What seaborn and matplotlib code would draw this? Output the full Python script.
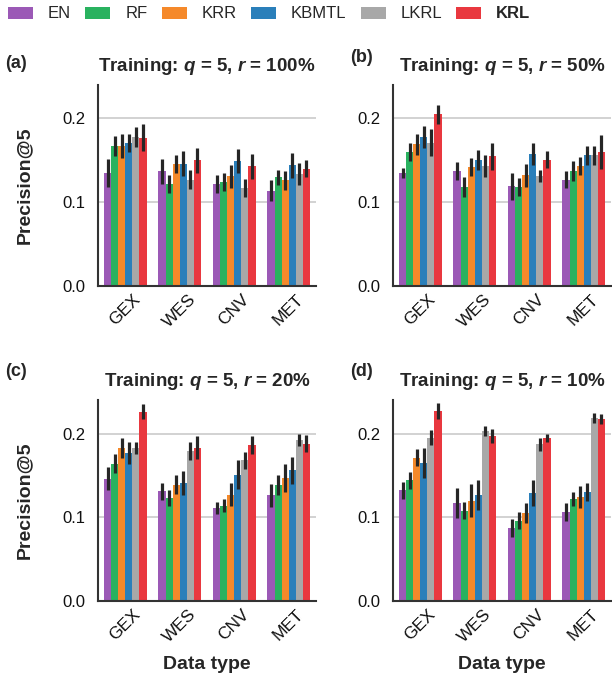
import pandas as pd
import seaborn as sns
import matplotlib.pyplot as plt
from matplotlib.patches import Patch

# Methods, data types and colours
methods = ['EN', 'RF', 'KRR', 'KBMTL', 'LKRL', 'KRL']
data_types = ['GEX', 'WES', 'CNV', 'MET']
colors = ['#9b59b6', '#29b25f', '#f5892a', '#2a7fba', '#a8a8a8', '#e9383f']

# Precision@5 means (rows: data type, columns: method)
mean_a = [[0.135, 0.167, 0.167, 0.171, 0.178, 0.177],
          [0.137, 0.122, 0.146, 0.146, 0.127, 0.150],
          [0.122, 0.124, 0.131, 0.149, 0.117, 0.143],
          [0.114, 0.130, 0.126, 0.144, 0.134, 0.140]]
err_a = [[0.017, 0.012, 0.014, 0.011, 0.012, 0.016],
         [0.015, 0.011, 0.011, 0.015, 0.011, 0.015],
         [0.011, 0.011, 0.014, 0.014, 0.011, 0.015],
         [0.012, 0.009, 0.011, 0.015, 0.013, 0.010]]

mean_b = [[0.135, 0.160, 0.169, 0.178, 0.171, 0.205],
          [0.137, 0.118, 0.142, 0.150, 0.143, 0.155],
          [0.119, 0.118, 0.132, 0.158, 0.131, 0.151],
          [0.127, 0.137, 0.143, 0.156, 0.156, 0.160]]
err_b = [[0.006, 0.011, 0.013, 0.013, 0.016, 0.011],
         [0.011, 0.012, 0.011, 0.012, 0.013, 0.016],
         [0.016, 0.011, 0.014, 0.013, 0.007, 0.010],
         [0.010, 0.012, 0.011, 0.011, 0.011, 0.020]]

mean_c = [[0.146, 0.164, 0.183, 0.177, 0.183, 0.226],
          [0.131, 0.123, 0.139, 0.141, 0.179, 0.183],
          [0.111, 0.114, 0.127, 0.151, 0.168, 0.186],
          [0.126, 0.138, 0.147, 0.156, 0.192, 0.188]]
err_c = [[0.014, 0.011, 0.012, 0.013, 0.007, 0.009],
         [0.010, 0.010, 0.011, 0.014, 0.011, 0.014],
         [0.007, 0.008, 0.014, 0.017, 0.010, 0.011],
         [0.014, 0.012, 0.017, 0.016, 0.007, 0.010]]

mean_d = [[0.132, 0.144, 0.171, 0.165, 0.195, 0.227],
          [0.117, 0.108, 0.120, 0.127, 0.203, 0.197],
          [0.087, 0.096, 0.105, 0.129, 0.187, 0.195],
          [0.106, 0.122, 0.124, 0.130, 0.219, 0.217]]
err_d = [[0.010, 0.010, 0.010, 0.018, 0.009, 0.010],
         [0.018, 0.010, 0.020, 0.018, 0.006, 0.008],
         [0.011, 0.010, 0.012, 0.015, 0.008, 0.005],
         [0.011, 0.008, 0.013, 0.011, 0.006, 0.006]]

panel_tags = ['(a)', '(b)', '(c)', '(d)']
panel_r = ['100%', '50%', '20%', '10%']

sns.set_style('white')
plt.rcParams['font.family'] = ['Liberation Sans', 'DejaVu Sans']
plt.rcParams['mathtext.fontset'] = 'custom'
plt.rcParams['mathtext.rm'] = 'Liberation Sans:bold'
plt.rcParams['mathtext.it'] = 'Liberation Sans:italic:bold'

fig = plt.figure(figsize=(6.12, 6.84), dpi=100)

W, H = 612, 684
boxes = [(98, 85), (393, 85), (98, 400), (393, 400)]
panels = [(mean_a, err_a), (mean_b, err_b), (mean_c, err_c), (mean_d, err_d)]

for k, ((means, errs), (x0, y0)) in enumerate(zip(panels, boxes)):
    ax = fig.add_axes([x0 / W, 1 - (y0 + 201) / H, 218 / W, 201 / H])

    rows = []
    for j, dt in enumerate(data_types):
        for i, m in enumerate(methods):
            rows.append({'type': dt, 'method': m, 'value': means[j][i]})
    df = pd.DataFrame(rows)

    sns.barplot(data=df, x='type', y='value', hue='method', order=data_types,
                hue_order=methods, palette=colors, saturation=1, errorbar=None,
                width=0.78, linewidth=0, legend=False, ax=ax, zorder=2)

    # error bars on top of each bar
    bar_groups = list(ax.containers)
    for i, cont in enumerate(bar_groups):
        for j, bar in enumerate(cont.patches):
            xc = bar.get_x() + bar.get_width() / 2
            ax.errorbar(xc, bar.get_height(), yerr=errs[j][i], fmt='none',
                        ecolor='#262626', elinewidth=2.3, capsize=0, zorder=3)

    ax.set_xlim(-0.5, 3.5)
    ax.set_ylim(0, 0.24)
    ax.set_yticks([0.0, 0.1, 0.2])
    ax.set_yticklabels(['0.0', '0.1', '0.2'])
    ax.yaxis.grid(True, color='#cfcfcf', linewidth=1.3)
    ax.set_axisbelow(True)
    sns.despine(ax=ax)
    for s in ['left', 'bottom']:
        ax.spines[s].set_color('#333333')
        ax.spines[s].set_linewidth(1.5)
    ax.tick_params(axis='y', length=6, width=1.5, color='#333333', pad=3,
                   labelsize=12, labelcolor='#111111')
    ax.tick_params(axis='x', length=0, pad=4, labelsize=12.5, labelcolor='#111111')
    plt.setp(ax.get_xticklabels(), rotation=45, ha='center')

    ax.set_title(f'Training: $q$ = 5, $r$ = {panel_r[k]}', fontsize=13.5,
                 fontweight='bold', pad=10)

    if k % 2 == 0:
        ax.set_ylabel('Precision@5', fontsize=14, fontweight='bold')
        ax.yaxis.set_label_coords(-0.30, 0.5)
    else:
        ax.set_ylabel('')
    if k >= 2:
        ax.set_xlabel('Data type', fontsize=14, fontweight='bold')
        ax.xaxis.set_label_coords(0.5, -0.275)
    else:
        ax.set_xlabel('')

label_pos = [(5, 63), (350, 58), (5, 372), (350, 372)]
for tag, (lx, ly) in zip(panel_tags, label_pos):
    fig.text(lx / W, 1 - ly / H, tag, fontsize=13, fontweight='bold',
             ha='left', va='center')

handles = [Patch(facecolor=c, edgecolor='none') for c in colors]
leg = fig.legend(handles, methods, loc='center left', bbox_to_anchor=(8 / W, 1 - 14 / H),
                 ncol=6, frameon=False, fontsize=12, handlelength=1.5,
                 handleheight=0.7, handletextpad=0.9, columnspacing=0.85,
                 borderpad=0, borderaxespad=0)
leg.get_texts()[-1].set_fontweight('bold')

plt.savefig('out.png', dpi=100)
